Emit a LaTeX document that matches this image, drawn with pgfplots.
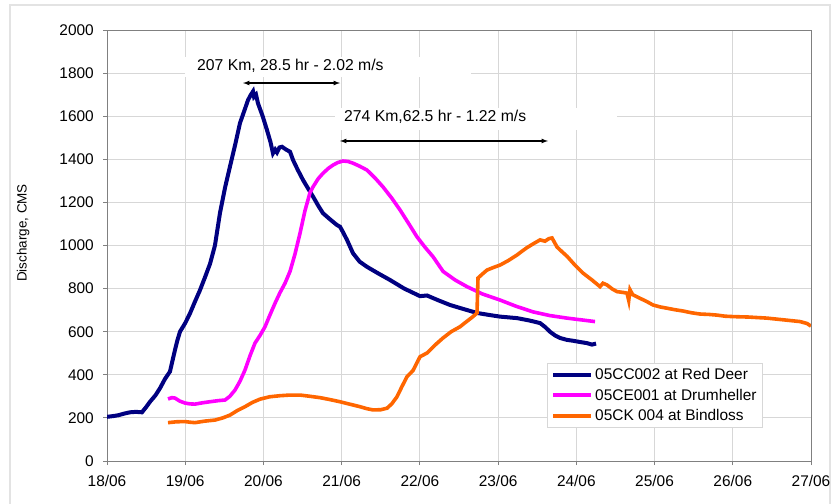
\documentclass[border=0pt]{standalone}
\usepackage{pgfplots}
\pgfplotsset{compat=1.18}
\usepackage{fontspec}
\setmainfont{Liberation Sans}
\definecolor{cblue}{RGB}{0,0,128}
\definecolor{cmag}{RGB}{255,0,255}
\definecolor{corange}{RGB}{255,102,0}
\definecolor{gridc}{RGB}{215,215,215}
\definecolor{axc}{RGB}{128,128,128}
\begin{document}
\begin{tikzpicture}
\useasboundingbox (0,0) rectangle (831bp,504bp);
\draw[gridc!70, line width=1.5bp] (10bp,0) -- (10bp,499bp) -- (830bp,499bp) -- (830bp,0);
\begin{axis}[
  at={(107bp,43bp)}, anchor=south west,
  scale only axis, width=704bp, height=431bp,
  xmin=0, xmax=9, ymin=0, ymax=2000,
  xtick={0,...,9},
  xticklabels={18/06,19/06,20/06,21/06,22/06,23/06,24/06,25/06,26/06,27/06},
  ytick={0,200,...,2000},
  grid=major, major grid style={gridc, line width=0.8bp},
  axis line style={axc, line width=0.8bp},
  major tick length=4bp, tick align=outside, tick style={axc, line width=0.8bp},
  xtick pos=bottom, ytick pos=left,
  /pgf/number format/assume math mode=true,
  /pgf/number format/set thousands separator={},
  every tick label/.append style={font=\fontsize{15.5}{18}\selectfont},
  yticklabel style={inner sep=0pt, xshift=-9bp},
  xticklabel style={inner sep=0pt, yshift=-10bp},
  ylabel={Discharge, CMS},
  ylabel style={at={(axis description cs:-0.119,0.529)}, anchor=center, font=\fontsize{13.5}{16}\selectfont},
  legend style={at={(axis description cs:0.625,0.227)}, anchor=north west,
    draw=gridc, fill=white, font=\fontsize{15.5}{18}\selectfont,
    row sep=4bp, inner xsep=4bp, inner ysep=3bp},
  legend cell align=left,
  legend image code/.code={\draw[#1, line width=4bp] (0bp,0bp) -- (38bp,0bp);},
]
\fill[white] (axis cs:1.0,1780) rectangle (axis cs:4.65,1875);
\fill[white] (axis cs:2.92,1535) rectangle (axis cs:6.52,1640);

\addplot[cblue, line width=4bp] coordinates {
(0.000,205) (0.070,208) (0.141,212) (0.220,220) (0.294,226) (0.370,228) (0.447,226)
(0.500,250) (0.550,275) (0.620,305) (0.678,338) (0.740,380) (0.805,415) (0.840,470) (0.869,515)
(0.900,560) (0.933,600) (1.000,640) (1.061,685) (1.125,740) (1.189,793) (1.250,850) (1.317,915)
(1.380,1000) (1.444,1150) (1.510,1270) (1.572,1366) (1.640,1470) (1.700,1568)
(1.760,1630) (1.803,1675) (1.840,1700) (1.867,1715) (1.880,1690) (1.905,1700)
(1.930,1660) (1.990,1600) (2.045,1536) (2.090,1480) (2.122,1428) (2.150,1445)
(2.173,1432) (2.205,1455) (2.237,1458) (2.290,1445) (2.340,1435) (2.378,1397)
(2.440,1350) (2.506,1304) (2.570,1265) (2.634,1227) (2.700,1185) (2.761,1150)
(2.830,1128) (2.889,1110) (2.940,1095) (2.979,1087) (3.020,1060) (3.068,1026)
(3.145,964) (3.230,925) (3.324,901) (3.470,870) (3.618,840) (3.800,800)
(4.002,765) (4.091,768) (4.240,745) (4.385,724) (4.560,705) (4.730,687)
(4.880,678) (5.024,670) (5.242,663) (5.400,652) (5.536,640) (5.600,622)
(5.663,600) (5.730,582) (5.791,571) (5.880,562) (5.957,558) (6.050,552)
(6.136,547) (6.200,540) (6.252,545)
};
\addlegendentry{05CC002 at Red Deer}

\addplot[cmag, line width=3.6bp] coordinates {
(0.780,288) (0.830,294) (0.869,292) (0.930,278) (0.997,269) (1.060,265) (1.125,264)
(1.220,270) (1.317,275) (1.420,280) (1.509,283) (1.570,300) (1.636,329)
(1.700,370) (1.764,422) (1.830,490) (1.892,547) (1.960,585) (2.020,623)
(2.080,675) (2.148,732) (2.210,780) (2.276,825) (2.340,880) (2.403,960)
(2.467,1056) (2.530,1160) (2.595,1245) (2.634,1272) (2.700,1310) (2.761,1335)
(2.830,1358) (2.889,1373) (2.950,1385) (3.017,1392) (3.080,1390) (3.145,1382)
(3.230,1368) (3.324,1350) (3.430,1312) (3.528,1272) (3.640,1220) (3.746,1165)
(3.860,1100) (3.963,1040) (4.070,990) (4.168,948) (4.296,880) (4.450,840)
(4.602,809) (4.800,775) (5.024,747) (5.230,718) (5.446,692) (5.660,675)
(5.881,663) (6.060,655) (6.239,647)
};
\addlegendentry{05CE001 at Drumheller}

\addplot[corange, line width=3.6bp] coordinates {
(0.780,178) (0.890,182) (0.997,183) (1.060,180) (1.125,178) (1.250,185) (1.381,190)
(1.480,200) (1.572,213) (1.670,235) (1.764,252) (1.860,272) (1.956,287)
(2.080,298) (2.212,303) (2.340,306) (2.467,306) (2.600,300) (2.723,294)
(2.850,285) (2.979,275) (3.100,264) (3.234,252) (3.320,243) (3.401,237)
(3.500,238) (3.580,245) (3.640,265) (3.707,298) (3.770,345) (3.835,391)
(3.912,420) (4.002,484) (4.091,501) (4.200,540) (4.296,571) (4.400,600)
(4.513,623) (4.600,648) (4.679,670) (4.730,687) (4.743,849) (4.800,868)
(4.858,886) (4.940,898) (5.024,909) (5.130,930) (5.242,956) (5.300,972)
(5.369,990) (5.450,1008) (5.536,1026) (5.600,1020) (5.650,1032) (5.689,1035)
(5.720,1015) (5.753,993) (5.820,970) (5.881,950) (5.980,910) (6.085,872)
(6.200,840) (6.303,809) (6.340,825) (6.392,817) (6.460,798) (6.520,786)
(6.600,782) (6.648,779) (6.670,745) (6.686,795) (6.720,772) (6.814,755)
(6.900,740) (6.980,724) (7.070,715) (7.159,709) (7.260,702) (7.364,696)
(7.470,688) (7.581,682) (7.700,680) (7.798,677) (7.900,672) (8.003,670)
(8.200,668) (8.438,663) (8.650,655) (8.860,647) (8.950,638) (9.000,626)
};
\addlegendentry{05CK 004 at Bindloss}

\draw[<->, >=latex, line width=1.2bp] (axis cs:1.739,1754) -- (axis cs:2.979,1754);
\draw[<->, >=latex, line width=1.2bp] (axis cs:2.979,1485) -- (axis cs:5.638,1485);
\node[anchor=west, inner sep=0pt, font=\fontsize{15.8}{18}\selectfont] at (axis cs:1.151,1833) {207 Km, 28.5 hr - 2.02 m/s};
\node[anchor=west, inner sep=0pt, font=\fontsize{15.8}{18}\selectfont] at (axis cs:3.030,1596) {274 Km,62.5 hr - 1.22 m/s};
\end{axis}
\end{tikzpicture}
\end{document}
